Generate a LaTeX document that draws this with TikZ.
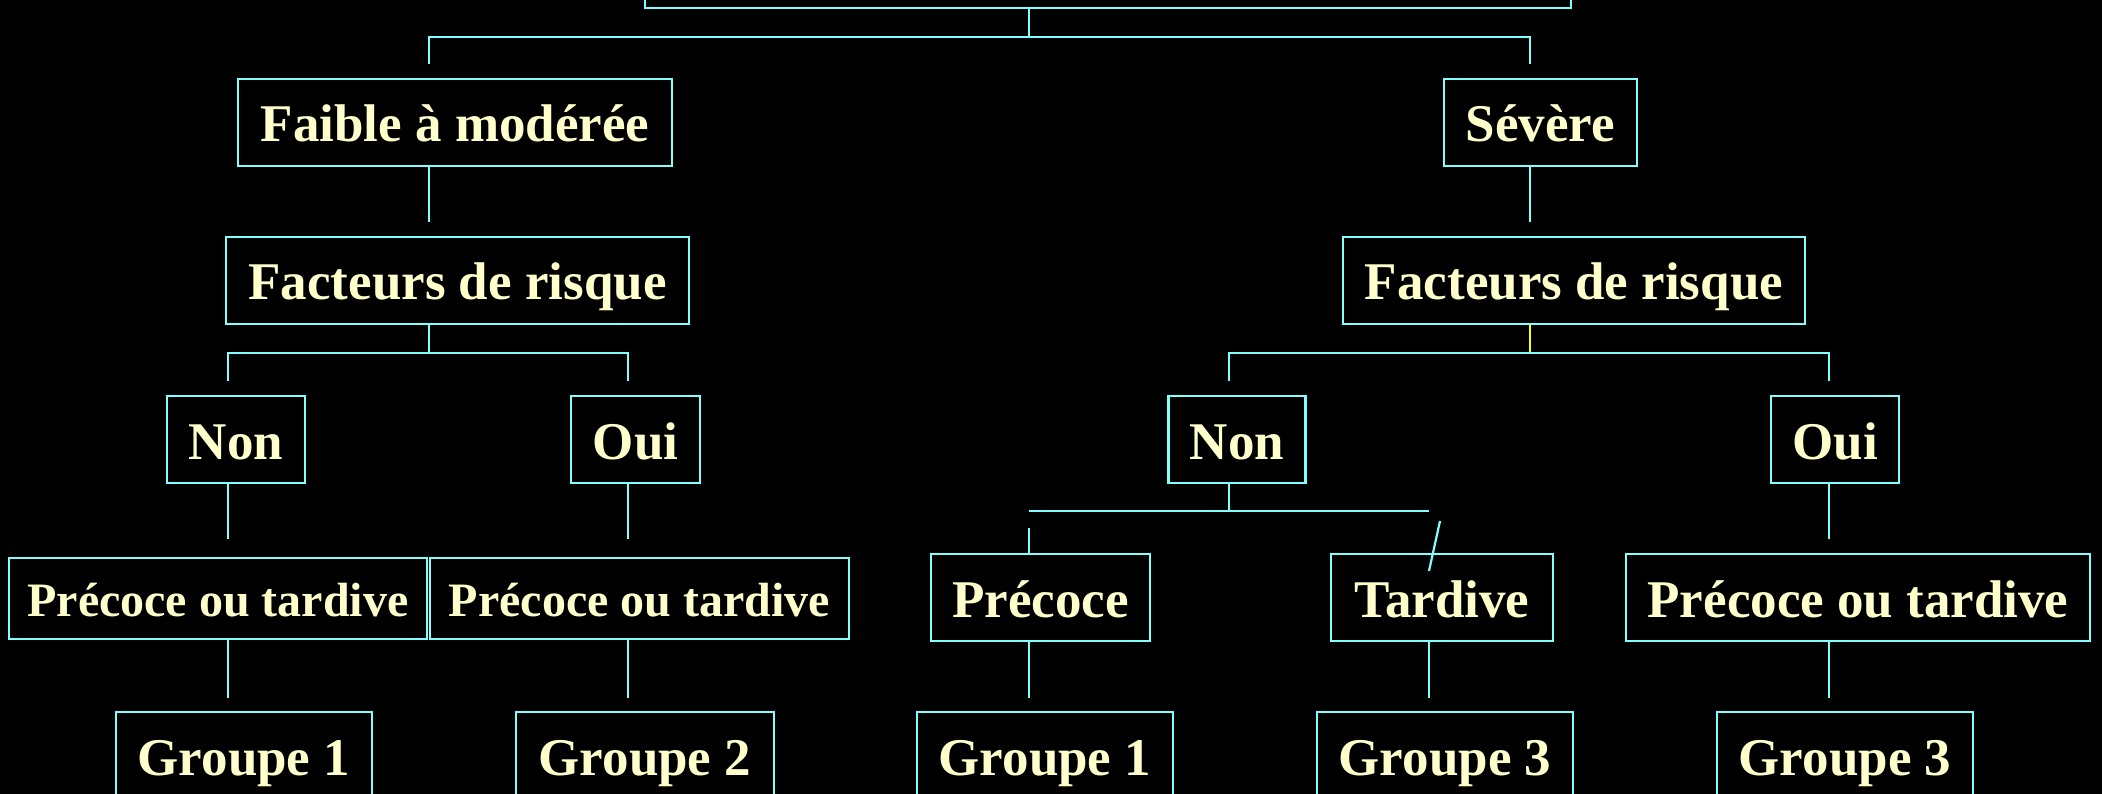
\documentclass[tikz,border=0pt]{standalone}
\usepackage{fontspec}
\setmainfont{Liberation Serif}

\definecolor{boxcyan}{HTML}{80FFFF}
\definecolor{labelyellow}{HTML}{FFFFCC}
\definecolor{stemyellow}{HTML}{FFFF00}

\tikzset{
    box/.style={draw=boxcyan,line width=2.6pt,text=labelyellow,inner sep=0pt,
        minimum height=87pt,text height=39pt,text depth=0pt,
        font=\fontsize{53pt}{60pt}\selectfont\bfseries},
    smallbox/.style={box,minimum height=81pt,text height=36pt,
        font=\fontsize{48pt}{54pt}\selectfont\bfseries},
    link/.style={draw=boxcyan,line width=2.2pt},
}

\begin{document}
\begin{tikzpicture}[x=1pt,y=-1pt]
    \useasboundingbox (0,0) rectangle (2102,794);
    \clip (0,0) rectangle (2102,794);
    \fill[black] (0,0) rectangle (2102,794);

    % boxes
    \node[box,minimum width=926pt,minimum height=100pt] (top) at (1108,-42) {};
    \node[box,minimum width=434pt] (fm) at (455,122.5) {Faible à modérée};
    \node[box,minimum width=193pt] (sev) at (1540.5,122.5) {Sévère};
    \node[box,minimum width=463pt] (frL) at (457.5,280.5) {Facteurs de risque};
    \node[box,minimum width=462pt] (frR) at (1574,280.5) {Facteurs de risque};
    \node[box,minimum width=138pt] (nonL) at (236,439.5) {Non};
    \node[box,minimum width=129pt] (ouiL) at (635.5,439.5) {Oui};
    \node[box,minimum width=137pt] (nonR) at (1237,439.5) {Non};
    \node[box,minimum width=128pt] (ouiR) at (1835,439.5) {Oui};
    \node[smallbox,minimum width=418pt] (ptL1) at (218,598.5) {Précoce ou tardive};
    \node[smallbox,minimum width=419pt] (ptL2) at (639.5,598.5) {Précoce ou tardive};
    \node[box,minimum width=219pt] (preR) at (1040.5,597.5) {Précoce};
    \node[box,minimum width=222pt] (tarR) at (1442,597.5) {Tardive};
    \node[box,minimum width=464pt] (ptR) at (1858,597.5) {Précoce ou tardive};
    \node[box,minimum width=256pt] (g1L) at (244,755.5) {Groupe 1};
    \node[box,minimum width=258pt] (g2L) at (645,755.5) {Groupe 2};
    \node[box,minimum width=256pt] (g1R) at (1045,755.5) {Groupe 1};
    \node[box,minimum width=256pt] (g3a) at (1445,755.5) {Groupe 3};
    \node[box,minimum width=256pt] (g3b) at (1845,755.5) {Groupe 3};

    % free ends and junctions
    \coordinate (t0) at (1029,37);
    \coordinate (fmIn) at (429,64);
    \coordinate (sevIn) at (1530,64);
    \coordinate (frLIn) at (429,222);
    \coordinate (frRIn) at (1530,222);
    \coordinate (jL) at (429,353);
    \coordinate (jR) at (1530,353);
    \coordinate (nonLIn) at (228,381);
    \coordinate (ouiLIn) at (628,381);
    \coordinate (nonRIn) at (1229,381);
    \coordinate (ouiRIn) at (1829,381);
    \coordinate (ptL1In) at (228,539);
    \coordinate (ptL2In) at (628,539);
    \coordinate (ptRIn) at (1829,539);
    \coordinate (jN) at (1229,511);
    \coordinate (barA) at (1029,511);
    \coordinate (barB) at (1429,511);
    \coordinate (preTop) at (1029,528);
    \coordinate (slA) at (1440,521);
    \coordinate (slB) at (1429,571);
    \coordinate (g1LIn) at (228,698);
    \coordinate (g2LIn) at (628,698);
    \coordinate (g1RIn) at (1029,698);
    \coordinate (g3aIn) at (1429,698);
    \coordinate (g3bIn) at (1829,698);

    % connectors
    \draw[link] (top.south -| t0) -- (t0);
    \draw[link] (fmIn) -- (fmIn |- t0) -- (sevIn |- t0) -- (sevIn);
    \draw[link] (fm.south -| frLIn) -- (frLIn);
    \draw[link] (sev.south -| frRIn) -- (frRIn);

    \draw[link] (frL.south -| jL) -- (jL);
    \draw[link] (nonLIn) -- (nonLIn |- jL) -- (ouiLIn |- jL) -- (ouiLIn);
    \draw[link,draw=stemyellow] (frR.south -| jR) -- (jR);
    \draw[link] (nonRIn) -- (nonRIn |- jR) -- (ouiRIn |- jR) -- (ouiRIn);

    \draw[link] (nonL.south -| ptL1In) -- (ptL1In);
    \draw[link] (ouiL.south -| ptL2In) -- (ptL2In);
    \draw[link] (nonR.south -| jN) -- (jN);
    \draw[link] (barA) -- (barB);
    \draw[link] (preTop) -- (preR.north -| preTop);
    \draw[link] (slA) -- (slB);
    \draw[link] (ouiR.south -| ptRIn) -- (ptRIn);

    \draw[link] (ptL1.south -| g1LIn) -- (g1LIn);
    \draw[link] (ptL2.south -| g2LIn) -- (g2LIn);
    \draw[link] (preR.south -| g1RIn) -- (g1RIn);
    \draw[link] (tarR.south -| g3aIn) -- (g3aIn);
    \draw[link] (ptR.south -| g3bIn) -- (g3bIn);
\end{tikzpicture}
\end{document}
